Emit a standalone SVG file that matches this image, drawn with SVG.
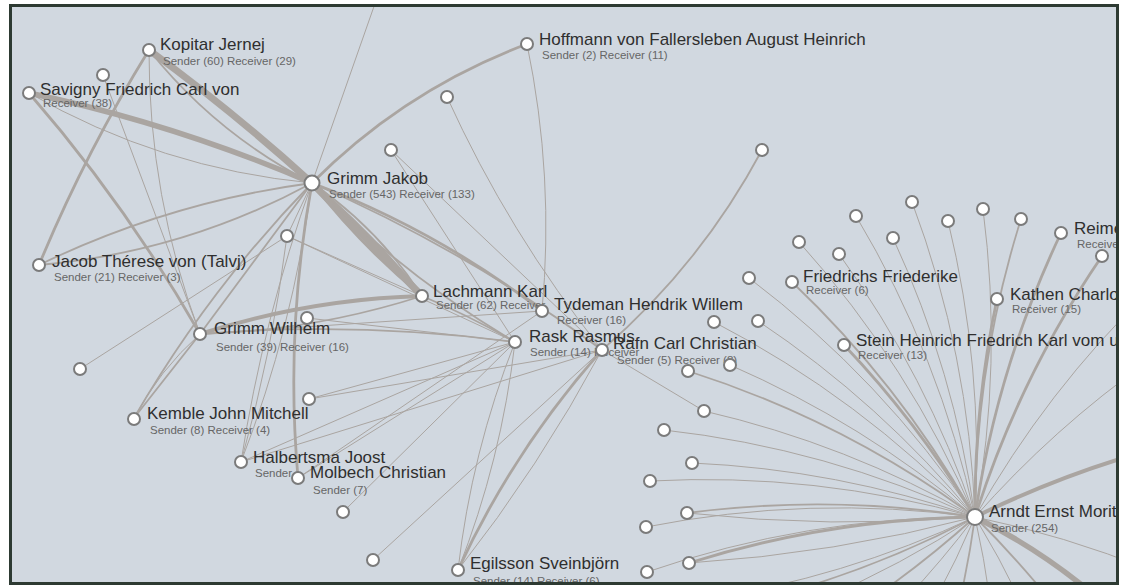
<svg xmlns="http://www.w3.org/2000/svg" width="1128" height="586" viewBox="0 0 1128 586">
<defs>
<style>
.l{fill:none;stroke:#aaa5a1;stroke-linecap:round}
.w1{stroke-width:1}
.w2{stroke-width:1.8}
.w3{stroke-width:2.8}
.w4{stroke-width:4}
.w5{stroke-width:5.5}
.w6{stroke-width:7}
.n{fill:#fff;stroke:#7b7b7b;stroke-width:2}
.t{font-family:"Liberation Sans",Arial,sans-serif;font-size:17px;fill:#2f2f2f}
.s{font-family:"Liberation Sans",Arial,sans-serif;font-size:11.5px;fill:#666}
</style>
<clipPath id="frame"><rect x="11" y="6" width="1106" height="577"/></clipPath>
</defs>
<rect x="0" y="0" width="1128" height="586" fill="#fff"/>
<rect x="10.5" y="5.5" width="1107" height="578" fill="#d1d8e0"/>
<g clip-path="url(#frame)">
<g id="links">
<path class="l w6" d="M149 50 A2000 2000 0 0 1 312 183"/>
<path class="l w2" d="M149 50 A500 500 0 0 0 312 183"/>
<path class="l w5" d="M29 93 A1500 1500 0 0 1 312 183"/>
<path class="l w1" d="M29 93 A700 700 0 0 0 312 183"/>
<path class="l w3" d="M29 93 A1500 1500 0 0 1 200 334"/>
<path class="l w3" d="M149 50 A1500 1500 0 0 0 39 265"/>
<path class="l w1" d="M149 50 A800 800 0 0 0 200 334"/>
<path class="l w1" d="M103 75 L200 334"/>
<path class="l w1" d="M378 -5 L312 183"/>
<path class="l w3" d="M312 183 A600 600 0 0 1 527 44"/>
<path class="l w1" d="M447 97 A1200 1200 0 0 0 602 350"/>
<path class="l w1" d="M527 44 A900 900 0 0 1 542 311"/>
<path class="l w1" d="M391 150 L602 350"/>
<path class="l w1" d="M391 150 L515 342"/>
<path class="l w2" d="M762 150 A700 700 0 0 1 602 350"/>
<path class="l w6" d="M312 183 L422 296"/>
<path class="l w4" d="M312 183 A900 900 0 0 1 422 296"/>
<path class="l w3" d="M312 183 A700 700 0 0 0 422 296"/>
<path class="l w2" d="M312 183 A400 400 0 0 1 422 296"/>
<path class="l w3" d="M312 183 A900 900 0 0 1 542 311"/>
<path class="l w2" d="M312 183 A1500 1500 0 0 1 602 350"/>
<path class="l w2" d="M312 183 A1000 1000 0 0 0 515 342"/>
<path class="l w1" d="M312 183 L287 236"/>
<path class="l w2" d="M39 265 A900 900 0 0 1 312 183"/>
<path class="l w2" d="M39 265 A700 700 0 0 0 312 183"/>
<path class="l w2" d="M312 183 L200 334"/>
<path class="l w2" d="M312 183 A1200 1200 0 0 0 134 418"/>
<path class="l w1" d="M312 183 A1200 1200 0 0 1 241 462"/>
<path class="l w3" d="M312 183 A1100 1100 0 0 0 298 478"/>
<path class="l w1" d="M80 369 L287 236"/>
<path class="l w1" d="M287 236 L422 296"/>
<path class="l w1" d="M287 236 L515 342"/>
<path class="l w1" d="M307 318 L515 342"/>
<path class="l w4" d="M200 334 A800 800 0 0 1 422 296"/>
<path class="l w2" d="M200 334 A800 800 0 0 0 422 296"/>
<path class="l w2" d="M200 334 A1500 1500 0 0 1 515 342"/>
<path class="l w1" d="M200 334 L542 311"/>
<path class="l w2" d="M200 334 L134 418"/>
<path class="l w1" d="M200 334 A300 300 0 0 0 134 418"/>
<path class="l w2" d="M422 296 A800 800 0 0 1 515 342"/>
<path class="l w1" d="M241 462 A1500 1500 0 0 0 287 236"/>
<path class="l w1" d="M241 462 A1500 1500 0 0 1 312 183"/>
<path class="l w1" d="M241 462 L515 342"/>
<path class="l w1" d="M298 478 L515 342"/>
<path class="l w1" d="M298 478 L542 311"/>
<path class="l w1" d="M309 399 L515 342"/>
<path class="l w1" d="M343 512 L515 342"/>
<path class="l w1" d="M373 560 L602 350"/>
<path class="l w1" d="M458 570 A900 900 0 0 1 515 342"/>
<path class="l w1" d="M458 570 A900 900 0 0 0 515 342"/>
<path class="l w3" d="M458 570 A900 900 0 0 1 602 350"/>
<path class="l w1" d="M458 570 A1500 1500 0 0 0 602 350"/>
<path class="l w1" d="M602 350 L309 399"/>
<path class="l w1" d="M602 350 L241 462"/>
<path class="l w1" d="M602 350 L704 411"/>
<path class="l w1" d="M749 278 A1000 1000 0 0 1 975 517"/>
<path class="l w1" d="M799 242 A1000 1000 0 0 1 975 517"/>
<path class="l w2" d="M792 282 A1000 1000 0 0 1 975 517"/>
<path class="l w1" d="M839 254 A1000 1000 0 0 1 975 517"/>
<path class="l w1" d="M856 216 A1000 1000 0 0 1 975 517"/>
<path class="l w1" d="M893 238 A1000 1000 0 0 1 975 517"/>
<path class="l w1" d="M912 202 A1000 1000 0 0 1 975 517"/>
<path class="l w1" d="M948 221 A1000 1000 0 0 1 975 517"/>
<path class="l w1" d="M983 209 A1000 1000 0 0 1 975 517"/>
<path class="l w2" d="M1021 219 A1000 1000 0 0 0 975 517"/>
<path class="l w3" d="M1061 233 A1000 1000 0 0 0 975 517"/>
<path class="l w3" d="M1102 256 A1000 1000 0 0 0 975 517"/>
<path class="l w3" d="M997 299 A1000 1000 0 0 0 975 517"/>
<path class="l w3" d="M844 345 A1000 1000 0 0 1 975 517"/>
<path class="l w1" d="M714 322 A1000 1000 0 0 1 975 517"/>
<path class="l w1" d="M758 321 A1000 1000 0 0 1 975 517"/>
<path class="l w2" d="M688 371 A1000 1000 0 0 1 975 517"/>
<path class="l w1" d="M730 365 A1000 1000 0 0 1 975 517"/>
<path class="l w1" d="M704 411 A1000 1000 0 0 1 975 517"/>
<path class="l w1" d="M664 430 A1000 1000 0 0 1 975 517"/>
<path class="l w1" d="M692 463 A1000 1000 0 0 1 975 517"/>
<path class="l w1" d="M650 481 A1000 1000 0 0 1 975 517"/>
<path class="l w2" d="M687 513 A1000 1000 0 0 1 975 517"/>
<path class="l w1" d="M687 513 A1500 1500 0 0 0 975 517"/>
<path class="l w1" d="M646 527 A1000 1000 0 0 1 975 517"/>
<path class="l w3" d="M689 563 A1000 1000 0 0 1 975 517"/>
<path class="l w1" d="M689 563 A1500 1500 0 0 0 975 517"/>
<path class="l w1" d="M647 572 A1000 1000 0 0 1 975 517"/>
<path class="l w1" d="M1150 360 A1000 1000 0 0 0 975 517"/>
<path class="l w1" d="M1150 290 A1000 1000 0 0 0 975 517"/>
<path class="l w4" d="M1150 450 A1000 1000 0 0 0 975 517"/>
<path class="l w5" d="M1100 600 A600 600 0 0 0 975 517"/>
<path class="l w1" d="M1150 570 A1000 1000 0 0 0 975 517"/>
<path class="l w1" d="M700 600 A1000 1000 0 0 0 975 517"/>
<path class="l w2" d="M760 600 A1000 1000 0 0 0 975 517"/>
<path class="l w1" d="M820 600 A1000 1000 0 0 0 975 517"/>
<path class="l w2" d="M870 600 A1000 1000 0 0 0 975 517"/>
<path class="l w1" d="M905 600 A1000 1000 0 0 0 975 517"/>
<path class="l w1" d="M935 600 A1000 1000 0 0 0 975 517"/>
<path class="l w2" d="M960 600 A1000 1000 0 0 0 975 517"/>
<path class="l w1" d="M990 600 A1000 1000 0 0 0 975 517"/>
<path class="l w1" d="M1020 600 A1000 1000 0 0 0 975 517"/>
<path class="l w2" d="M1050 600 A1000 1000 0 0 0 975 517"/>
</g>
<g id="n-u1"><circle class="n" cx="103" cy="75" r="6"/></g>
<g id="n-kopitar"><circle class="n" cx="149" cy="50" r="6"/><text class="t" x="160" y="50">Kopitar Jernej</text><text class="s" x="163" y="65">Sender (60) Receiver (29)</text></g>
<g id="n-savigny"><circle class="n" cx="29" cy="93" r="6"/><text class="t" x="40" y="95">Savigny Friedrich Carl von</text><text class="s" x="43" y="107">Receiver (38)</text></g>
<g id="n-hoffmann"><circle class="n" cx="527" cy="44" r="6"/><text class="t" x="539" y="45">Hoffmann von Fallersleben August Heinrich</text><text class="s" x="542" y="59">Sender (2) Receiver (11)</text></g>
<g id="n-u2"><circle class="n" cx="447" cy="97" r="6"/></g>
<g id="n-u3"><circle class="n" cx="391" cy="150" r="6"/></g>
<g id="n-u4"><circle class="n" cx="762" cy="150" r="6"/></g>
<g id="n-grimm-jakob"><circle class="n" cx="312" cy="183" r="7.5"/><text class="t" x="327" y="184">Grimm Jakob</text><text class="s" x="329" y="198">Sender (543) Receiver (133)</text></g>
<g id="n-u5"><circle class="n" cx="287" cy="236" r="6"/></g>
<g id="n-talvj"><circle class="n" cx="39" cy="265" r="6"/><text class="t" x="52" y="267">Jacob Thérese von (Talvj)</text><text class="s" x="54" y="281">Sender (21) Receiver (3)</text></g>
<g id="n-lachmann"><circle class="n" cx="422" cy="296" r="6"/><text class="t" x="433" y="297">Lachmann Karl</text><text class="s" x="436" y="309">Sender (62) Receiver</text></g>
<g id="n-tydeman"><circle class="n" cx="542" cy="311" r="6"/><text class="t" x="554" y="310">Tydeman Hendrik Willem</text><text class="s" x="557" y="324">Receiver (16)</text></g>
<g id="n-grimm-wilhelm"><circle class="n" cx="200" cy="334" r="6"/><text class="t" x="214" y="334">Grimm Wilhelm</text><text class="s" x="216" y="351">Sender (39) Receiver (16)</text></g>
<g id="n-u6"><circle class="n" cx="307" cy="318" r="6"/></g>
<g id="n-rask"><circle class="n" cx="515" cy="342" r="6"/><text class="t" x="529" y="342">Rask Rasmus</text><text class="s" x="530" y="356">Sender (14) Receiver</text></g>
<g id="n-rafn"><circle class="n" cx="602" cy="350" r="6"/><text class="t" x="613" y="349">Rafn Carl Christian</text><text class="s" x="617" y="364">Sender (5) Receiver (8)</text></g>
<g id="n-u7"><circle class="n" cx="80" cy="369" r="6"/></g>
<g id="n-u8"><circle class="n" cx="309" cy="399" r="6"/></g>
<g id="n-kemble"><circle class="n" cx="134" cy="419" r="6"/><text class="t" x="147" y="419">Kemble John Mitchell</text><text class="s" x="150" y="434">Sender (8) Receiver (4)</text></g>
<g id="n-halbertsma"><circle class="n" cx="241" cy="462" r="6"/><text class="t" x="253" y="463">Halbertsma Joost</text><text class="s" x="255" y="477">Sender</text></g>
<g id="n-molbech"><circle class="n" cx="298" cy="478" r="6"/><text class="t" x="310" y="478">Molbech Christian</text><text class="s" x="313" y="494">Sender (7)</text></g>
<g id="n-u9"><circle class="n" cx="343" cy="512" r="6"/></g>
<g id="n-u10"><circle class="n" cx="373" cy="560" r="6"/></g>
<g id="n-egilsson"><circle class="n" cx="458" cy="570" r="6"/><text class="t" x="470" y="569">Egilsson Sveinbjörn</text><text class="s" x="473" y="585">Sender (14) Receiver (6)</text></g>
<g id="n-s1"><circle class="n" cx="749" cy="278" r="6"/></g>
<g id="n-s2"><circle class="n" cx="799" cy="242" r="6"/></g>
<g id="n-s3"><circle class="n" cx="839" cy="254" r="6"/></g>
<g id="n-s4"><circle class="n" cx="856" cy="216" r="6"/></g>
<g id="n-s5"><circle class="n" cx="893" cy="238" r="6"/></g>
<g id="n-s6"><circle class="n" cx="912" cy="202" r="6"/></g>
<g id="n-s7"><circle class="n" cx="948" cy="221" r="6"/></g>
<g id="n-s8"><circle class="n" cx="983" cy="209" r="6"/></g>
<g id="n-s9"><circle class="n" cx="1021" cy="219" r="6"/></g>
<g id="n-friedrichs"><circle class="n" cx="792" cy="282" r="6"/><text class="t" x="803" y="282">Friedrichs Friederike</text><text class="s" x="806" y="294">Receiver (6)</text></g>
<g id="n-reimer"><circle class="n" cx="1061" cy="233" r="6"/><text class="t" x="1074" y="234">Reimer</text><text class="s" x="1077" y="248">Receiver</text></g>
<g id="n-s10"><circle class="n" cx="1102" cy="256" r="6"/></g>
<g id="n-kathen"><circle class="n" cx="997" cy="299" r="6"/><text class="t" x="1010" y="300">Kathen Charlotte</text><text class="s" x="1012" y="313">Receiver (15)</text></g>
<g id="n-s11"><circle class="n" cx="714" cy="322" r="6"/></g>
<g id="n-s12"><circle class="n" cx="758" cy="321" r="6"/></g>
<g id="n-stein"><circle class="n" cx="844" cy="345" r="6"/><text class="t" x="856" y="346">Stein Heinrich Friedrich Karl vom und zum</text><text class="s" x="858" y="359">Receiver (13)</text></g>
<g id="n-s13"><circle class="n" cx="688" cy="371" r="6"/></g>
<g id="n-s14"><circle class="n" cx="730" cy="365" r="6"/></g>
<g id="n-s15"><circle class="n" cx="704" cy="411" r="6"/></g>
<g id="n-s16"><circle class="n" cx="664" cy="430" r="6"/></g>
<g id="n-s17"><circle class="n" cx="692" cy="463" r="6"/></g>
<g id="n-s18"><circle class="n" cx="650" cy="481" r="6"/></g>
<g id="n-s19"><circle class="n" cx="687" cy="513" r="6"/></g>
<g id="n-s20"><circle class="n" cx="646" cy="527" r="6"/></g>
<g id="n-s21"><circle class="n" cx="689" cy="563" r="6"/></g>
<g id="n-s22"><circle class="n" cx="647" cy="572" r="6"/></g>
<g id="n-arndt"><circle class="n" cx="975" cy="517" r="8"/><text class="t" x="989" y="517">Arndt Ernst Moritz</text><text class="s" x="991" y="532">Sender (254)</text></g>
</g>
<rect x="10.5" y="5.5" width="1107" height="578" fill="none" stroke="#2d3a32" stroke-width="3"/>
</svg>
